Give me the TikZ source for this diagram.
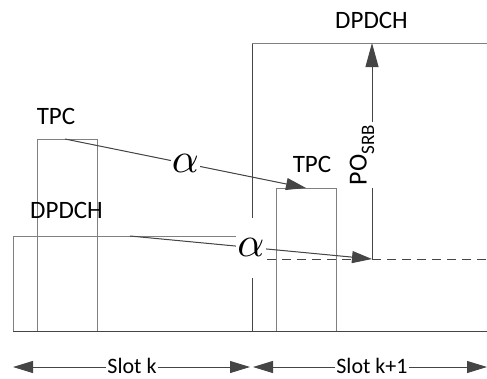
\documentclass[tikz,border=0pt]{standalone}
\usepackage{fontspec}
\setmainfont{Carlito}
\usetikzlibrary{arrows.meta}
\definecolor{boxgray}{HTML}{808080}
\definecolor{arrgray}{HTML}{454545}
\begin{document}
\begin{tikzpicture}[x=1pt,y=-1pt,
  box/.style={draw=boxgray,line width=1pt},
  edge/.style={draw=arrgray,line width=1pt},
  arr/.style={draw=arrgray,fill=arrgray,line width=1pt,-{Triangle[length=20pt,width=12pt]}},
  dblarr/.style={draw=arrgray,line width=1pt,{Triangle[length=20pt,width=12pt]}-{Triangle[length=20pt,width=12pt]}},
  lbl/.style={font=\fontsize{25}{25}\selectfont,inner sep=0pt},
  slotlbl/.style={font=\fontsize{22}{22}\selectfont,fill=white,inner xsep=1pt,inner ysep=0pt},
  alph/.style={fill=white,inner sep=1pt}]
\useasboundingbox (0,0) rectangle (487,378);
% rectangles
\draw[box] (13,236) rectangle (252,331);
\draw[box] (37,139) rectangle (97,331);
\draw[box] (276,188) rectangle (336,331);
\draw[edge] (252,331) -- (252,43);
\draw[box] (252,43) -- (487,43);
\draw[edge] (13,331) -- (487,331);
% coordinates
\coordinate (tpcLtop) at (65,139);
\coordinate (tpcRtop) at (306,188);
\coordinate (dpLtop) at (130,236);
\coordinate (posrb) at (372,259);
\coordinate (dpRtop) at (372,43);
\coordinate (dashS) at (252,259);
\coordinate (dashE) at (487,259);
% dashed line
\draw[edge,line width=0.8pt,dash pattern=on 9pt off 6pt] (dashS) -- (dashE);
% labels
\node[lbl] (tpcL) at (56,116) {TPC};
\node[lbl] (tpcR) at (312,164) {TPC};
\node[lbl] (dpL) at (66.5,210) {DPDCH};
\node[lbl] (dpR) at (371.5,20) {DPDCH};
% alpha arrows
\draw[arr] (tpcLtop) -- node[alph] (a1) {\scalebox{4.2}{$\alpha$}} (tpcRtop);
\draw[arr] (dpLtop) -- node[alph,minimum height=60pt,minimum width=30pt,inner sep=0pt] (a2) {\scalebox{4.2}{$\alpha$}} (posrb);
% PO_SRB arrow
\draw[edge,-{Triangle[length=24pt,width=13pt]}] (posrb) -- (dpRtop);
\node[fill=white,rotate=90,inner xsep=3pt,inner ysep=2pt] (po) at (362,155)
  {\fontsize{26}{26}\selectfont PO\raisebox{-0.28em}{\fontsize{19}{19}\selectfont SRB}};
% slot arrows
\coordinate (s0) at (13,367);
\coordinate (s1) at (250,367);
\coordinate (s2) at (253,367);
\coordinate (s3) at (487,367);
\draw[dblarr] (s0) -- (s1);
\draw[dblarr] (s2) -- (s3);
\node[slotlbl] (slotk) at (132,366) {Slot k};
\node[slotlbl] (slotk1) at (372,366) {Slot k+1};
\end{tikzpicture}
\end{document}
